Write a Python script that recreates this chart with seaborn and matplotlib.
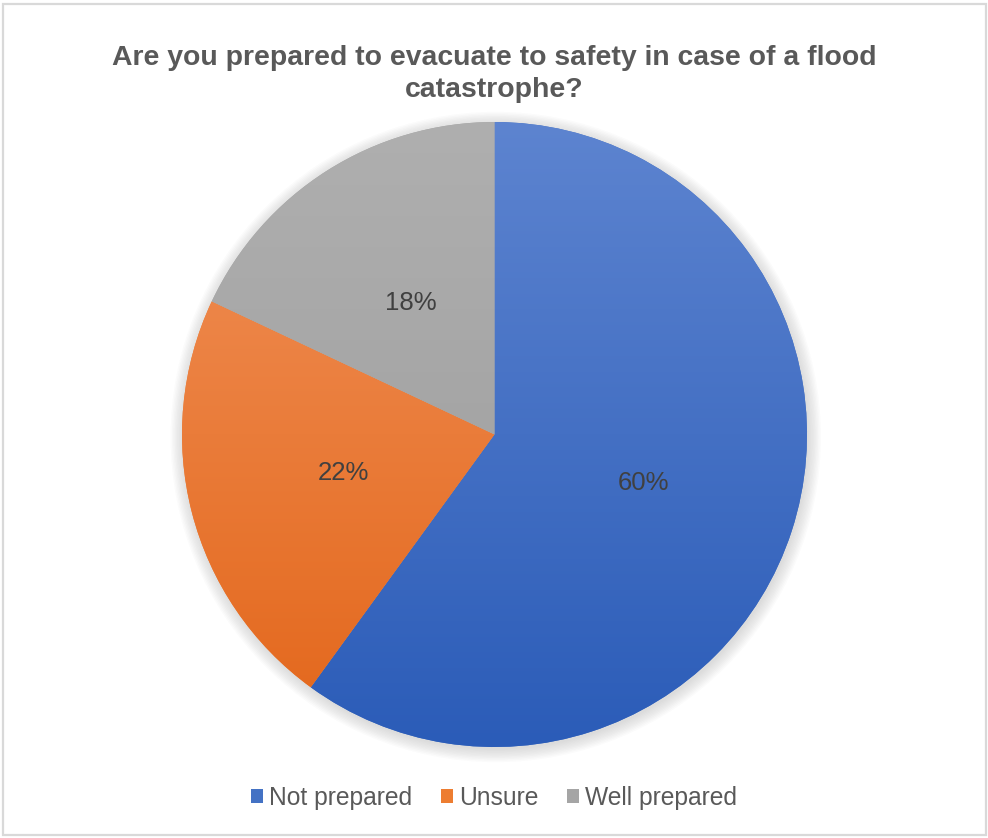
import numpy as np
import matplotlib
matplotlib.use("Agg")
import matplotlib.pyplot as plt
import seaborn as sns
from matplotlib.colors import LinearSegmentedColormap
from matplotlib.patches import Rectangle, Circle

# Survey answers
categories = ["Not prepared", "Unsure", "Well prepared"]
shares = [60, 22, 18]
title = "Are you prepared to evacuate to safety in case of a flood\ncatastrophe?"

# Top / bottom shade of each slice's gradient fill
shade_top = ["#5d84d0", "#f1925a", "#afafaf"]
shade_bottom = ["#2b5cb8", "#e3661a", "#9b9b9b"]
base_colors = ["#4472c4", "#ed7d31", "#a5a5a5"]

sns.set_theme(style="white")
plt.rcParams["font.family"] = ["Liberation Sans", "DejaVu Sans"]

W, H = 988, 838
fig = plt.figure(figsize=(W / 100, H / 100), dpi=100)
fig.patch.set_facecolor("white")

# chart border
fig.add_artist(Rectangle((2.5 / W, 3.5 / H), (986 - 2.5) / W, (834 - 3.5) / H,
                         transform=fig.transFigure, fill=False,
                         edgecolor="#d9d9d9", linewidth=1.6))

cx, cy, r = 494.5, 434.5, 312.5
ax = fig.add_axes([(cx - r) / W, (H - cy - r) / H, 2 * r / W, 2 * r / H])

# soft drop shadow behind the pie
for i in range(10):
    ax.add_patch(Circle((0.004, -0.008), 1.0 + i * 0.0045, facecolor="#7f7f7f",
                        edgecolor="none", alpha=0.028, zorder=0, clip_on=False))

wedges, texts, autotexts = ax.pie(
    shares, labels=None, colors=base_colors, startangle=90, counterclock=False,
    autopct=lambda p: f"{p:.0f}%", pctdistance=0.5,
    wedgeprops=dict(linewidth=0, edgecolor="none"),
    textprops=dict(fontsize=18.5, color="#404040"),
)

for w, top, bot in zip(wedges, shade_top, shade_bottom):
    w.set_zorder(1)
    cmap = LinearSegmentedColormap.from_list("g", [bot, top])
    grad = np.linspace(0, 1, 256).reshape(-1, 1)
    im = ax.imshow(grad, cmap=cmap, origin="lower", extent=(-1, 1, -1, 1),
                   aspect="auto", zorder=2, interpolation="bilinear")
    im.set_clip_path(w)

for t in autotexts:
    t.set_zorder(4)

ax.set_xlim(-1, 1)
ax.set_ylim(-1, 1)
ax.set_aspect("auto")
ax.axis("off")

fig.text(0.5, 1 - 74 / H, title, ha="center", va="center", fontsize=20.4,
         fontweight="bold", color="#595959", linespacing=1.27)

handles = [Rectangle((0, 0), 1, 1, facecolor=c, edgecolor="none") for c in base_colors]
fig.legend(handles, categories, loc="center", bbox_to_anchor=(0.5, 1 - 798 / H),
           ncol=3, frameon=False, fontsize=17.7, handlelength=0.5, handleheight=0.5,
           handletextpad=0.25, columnspacing=1.15, labelcolor="#595959")

fig.savefig("out.png", dpi=100, facecolor="white")
